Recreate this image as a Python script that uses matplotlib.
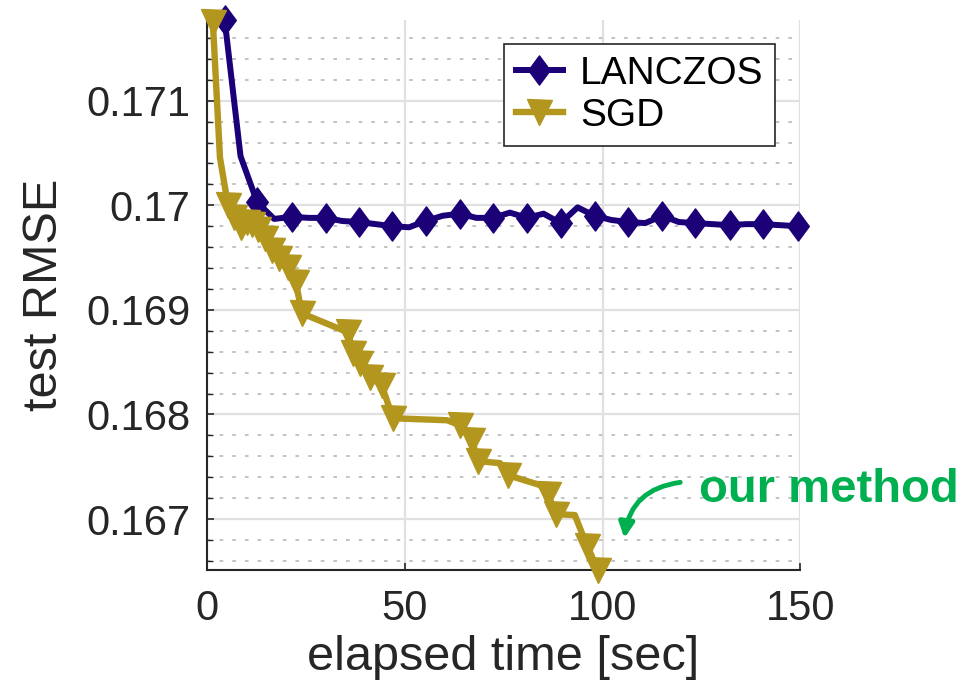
import matplotlib
matplotlib.use("Agg")
import matplotlib.pyplot as plt
from matplotlib.path import Path
import numpy as np

plt.rcParams['font.family'] = ['Liberation Sans', 'DejaVu Sans']

# ---- data ----
lanczos_x = [4.5, 8.5, 12.7, 17.0, 21.4, 25.7, 30.0, 34.2, 38.5, 42.7, 46.9, 51.1,
             55.3, 59.6, 63.9, 68.1, 72.3, 76.6, 80.9, 85.1, 89.4, 93.7, 98.0, 102.2,
             106.4, 110.8, 115.1, 119.3, 123.5, 127.8, 132.1, 136.3, 140.5, 145.0, 149.4]
lanczos_y = [0.17177, 0.17047, 0.17003, 0.16987, 0.16989, 0.16988, 0.16988, 0.16985,
             0.16984, 0.16982, 0.16980, 0.16979, 0.16985, 0.16990, 0.16992, 0.16988,
             0.16988, 0.16993, 0.16988, 0.16992, 0.16983, 0.16998, 0.16990, 0.16986,
             0.16984, 0.16983, 0.16990, 0.16984, 0.16983, 0.16982, 0.16981, 0.16982,
             0.16982, 0.16981, 0.16980]
lanczos_marks = list(range(0, 35, 2))

sgd_x = [1.5, 3.3, 5.3, 6.8, 8.6, 10.1, 11.4, 12.9, 14.7, 16.4, 18.2, 20.5, 22.5, 24.0,
         35.7, 36.9, 38.7, 41.2, 44.2, 47.0, 60.7, 64.0, 67.0, 68.5, 74.1, 76.1, 84.2,
         86.2, 88.2, 93.0, 96.1, 98.9]
sgd_y = [0.17175, 0.170456, 0.170007, 0.169893, 0.169797, 0.169845, 0.169817, 0.169778,
         0.169692, 0.169568, 0.169492, 0.169406, 0.169263, 0.168967, 0.168785, 0.168585,
         0.168490, 0.168356, 0.168280, 0.167964, 0.167945, 0.167898, 0.167754, 0.167554,
         0.167535, 0.167420, 0.167325, 0.167239, 0.167048, 0.167038, 0.166743, 0.166513]
sgd_marks = [0, 2, 3, 4, 5, 6, 7, 8, 9, 10, 11, 12, 13, 14, 15, 16, 17, 18, 19,
             21, 22, 23, 25, 27, 28, 30, 31]

xticks = [0, 50, 100, 150]
xtick_labels = ['0', '50', '100', '150']
yticks = [0.167, 0.168, 0.169, 0.170, 0.171]
ytick_labels = ['0.167', '0.168', '0.169', '0.17', '0.171']
yminor = [0.1666, 0.1668, 0.1672, 0.1674, 0.1676, 0.1678, 0.1682, 0.1684, 0.1686,
          0.1688, 0.1692, 0.1694, 0.1696, 0.1698, 0.1702, 0.1704, 0.1706, 0.1708,
          0.1712, 0.1714, 0.1716]

c_lan = '#1b0078'
c_sgd = '#b2961e'
c_green = '#00b050'

diamond = Path([(0, 1), (0.74, 0), (0, -1), (-0.74, 0), (0, 1)],
               [Path.MOVETO, Path.LINETO, Path.LINETO, Path.LINETO, Path.CLOSEPOLY])

fig = plt.figure(figsize=(9.76, 6.96), dpi=100)
ax = fig.add_axes([0.212, 0.181, 0.608, 0.790])

ax.plot(lanczos_x, lanczos_y, color=c_lan, lw=4.3, marker=diamond, markersize=21,
        markevery=lanczos_marks, mec=c_lan, mfc=c_lan, clip_on=False, zorder=3,
        label='LANCZOS')
ax.plot(sgd_x, sgd_y, color=c_sgd, lw=4.6, marker='v', markersize=18,
        markevery=sgd_marks, mec=c_sgd, mfc=c_sgd, clip_on=False, zorder=3,
        label='SGD')

ax.set_xlim(0, 150)
ax.set_ylim(min(sgd_y), max(lanczos_y))
ax.set_xticks(xticks)
ax.set_xticklabels(xtick_labels)
ax.set_yticks(yticks)
ax.set_yticklabels(ytick_labels)
ax.set_yticks(yminor, minor=True)

for s in ['top', 'right']:
    ax.spines[s].set_visible(False)
for s in ['left', 'bottom']:
    ax.spines[s].set_color('#262626')
    ax.spines[s].set_linewidth(1.5)

ax.tick_params(axis='both', which='major', direction='in', length=5, width=1.2,
               colors='#262626', labelsize=30, labelcolor='#262626')
ax.tick_params(axis='x', which='major', pad=14)
ax.tick_params(axis='y', which='major', pad=12)
ax.tick_params(axis='y', which='minor', direction='in', length=4, width=1.0,
               colors='#262626')

ax.grid(True, which='major', color='#e0e0e0', lw=1.6, zorder=0)
ax.grid(True, which='minor', axis='y', color='#bdbdbd', lw=1.3,
        linestyle=(0, (2, 5)), zorder=0)
ax.set_axisbelow(True)

ax.set_xlabel('elapsed time [sec]', fontsize=35, color='#262626', labelpad=4)
ax.set_ylabel('test RMSE', fontsize=35, color='#262626', labelpad=14)

leg = ax.legend(loc='upper right', bbox_to_anchor=(0.958, 0.956), fontsize=28,
                frameon=True, fancybox=False, edgecolor='#262626', framealpha=1,
                handlelength=1.2, handletextpad=0.45, borderpad=0.3,
                labelspacing=0.15, borderaxespad=0)
leg.get_frame().set_linewidth(1.2)
for t in leg.get_texts():
    t.set_color('black')

fig.text(699 / 976, 1 - 502 / 696, 'our method', fontsize=34, fontweight='bold',
         color=c_green, va='baseline', ha='left')
ax.annotate('', xy=(624 / 976, 1 - 541 / 696), xycoords='figure fraction',
            xytext=(683 / 976, 1 - 482 / 696), textcoords='figure fraction',
            arrowprops=dict(arrowstyle='-|>,head_length=0.9,head_width=0.45',
                            color=c_green, lw=3.5,
                            connectionstyle='arc3,rad=0.4'),
            annotation_clip=False)

fig.savefig('out.png', dpi=100)
